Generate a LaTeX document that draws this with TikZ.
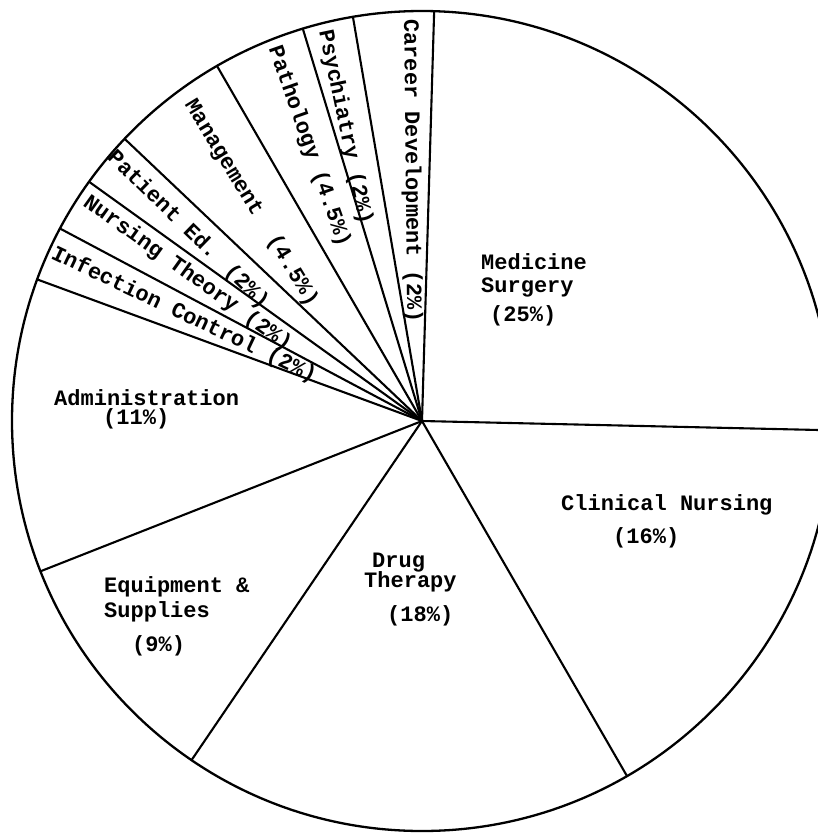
\documentclass[tikz,border=0pt]{standalone}
\usepackage{fontspec}
\usetikzlibrary{calc}
\newfontfamily\piefont{Liberation Mono}
\begin{document}
\begin{tikzpicture}[x=1pt,y=1pt,
  lbl/.style={font=\piefont\bfseries\fontsize{22}{24}\selectfont, inner sep=0pt, text=black},
  ln/.style={lbl, anchor=base west},
  rl/.style={lbl, anchor=center},
  rim/.style={line width=2.3pt},
  spoke/.style={line width=2.1pt, line cap=round}]
\useasboundingbox (0,0) rectangle (818,-833);
\clip (0,0) rectangle (818,-833);

% centre of the pie and its outline
\coordinate (c) at (422,-421);
\draw[rim] (c) circle[radius=410];

% slice boundaries, counter-clockwise from the right
\foreach \ang/\nm in {-1.3/b1, -60.0/b2, 235.8/b3, 201.5/b4, 159.8/b5,
                      152.0/b6, 144.3/b7, 136.5/b8, 120.0/b9, 106.9/b10,
                      99.7/b11, 88.3/b12}{
  \coordinate (\nm) at ($(c)+(\ang:410)$);
  \draw[spoke] (c) -- (\nm);
}

% horizontal labels
\node[ln] (med1) at (481,-269) {Medicine};
\node[ln] (med2) at (481,-292) {Surgery};
\node[ln] (med3) at (490,-321) {(25\%)};

\node[ln] (cln1) at (561,-510) {Clinical Nursing};
\node[ln] (cln2) at (613,-543) {(16\%)};

\node[ln] (drg1) at (372,-567) {Drug};
\node[ln] (drg2) at (364,-587) {Therapy};
\node[ln] (drg3) at (387,-621) {(18\%)};

\node[ln] (eqp1) at (104,-592) {Equipment \&};
\node[ln] (eqp2) at (104,-617) {Supplies};
\node[ln] (eqp3) at (132,-651) {(9\%)};

\node[ln] (adm1) at (54,-405) {Administration};
\node[ln] (adm2) at (103,-424) {(11\%)};

% radial labels in the narrow slices
\node[rl, rotate=-89.4] (car) at (411.5,-171) {Career Development (2\%)};
\node[rl, rotate=-78.1] (psy) at (345,-127) {Psychiatry (2\%)};
\node[rl, rotate=-70.6] (pat) at (309,-146.5) {Pathology (4.5\%)};
\node[rl, rotate=-58.6] (mgt) at (251,-203) {Management~~(4.5\%)};
\node[rl, rotate=-44.2] (ped) at (188,-230) {Patient Ed. (2\%)};
\node[rl, rotate=-35.6] (nth) at (187.5,-273.5) {Nursing Theory (2\%)};
\node[rl, rotate=-25.3] (inf) at (184,-315) {Infection Control (2\%)};
\end{tikzpicture}
\end{document}
